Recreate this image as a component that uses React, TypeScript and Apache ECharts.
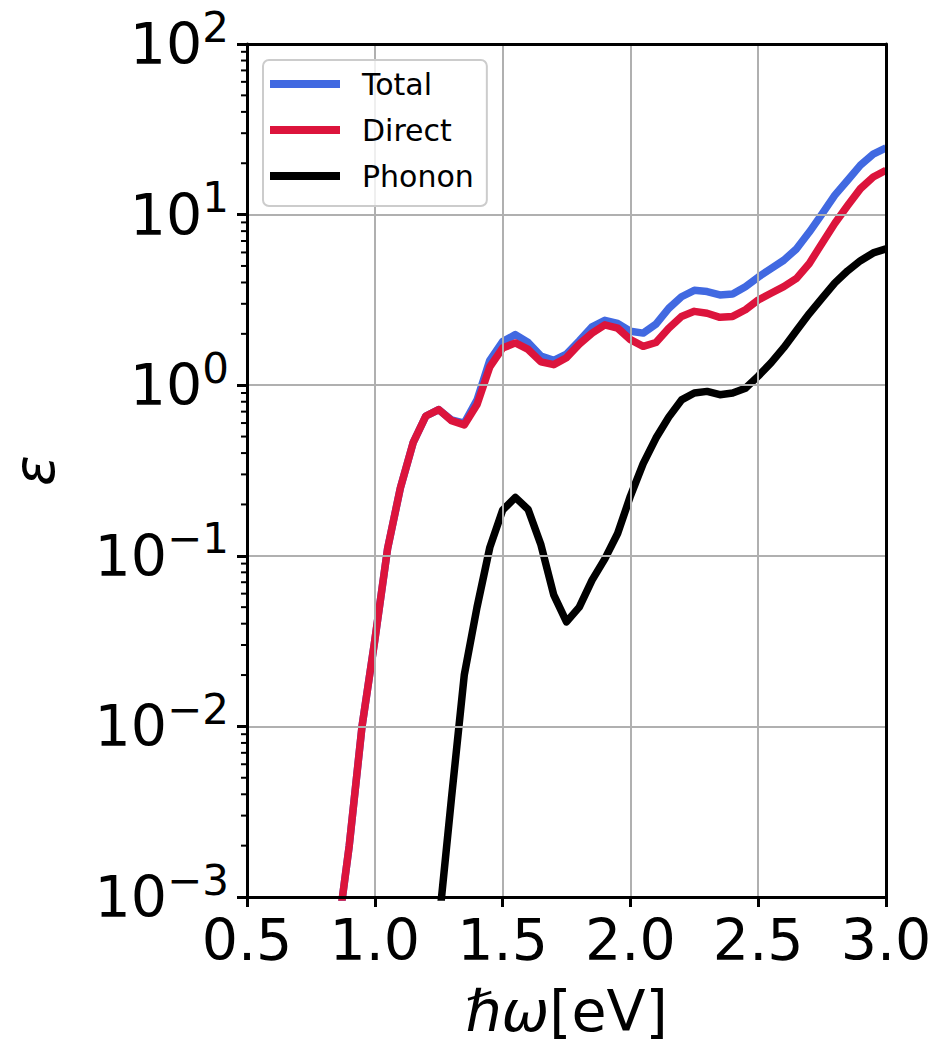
import React, { useEffect, useRef } from "react";
import * as echarts from "echarts";

const ENERGY = [
  0.85, 0.9, 0.95, 1.0, 1.05, 1.1, 1.15, 1.2, 1.25, 1.3, 1.35, 1.4, 1.45, 1.5, 1.55,
  1.6, 1.65, 1.7, 1.75, 1.8, 1.85, 1.9, 1.95, 2.0, 2.05, 2.1, 2.15, 2.2, 2.25, 2.3,
  2.35, 2.4, 2.45, 2.5, 2.55, 2.6, 2.65, 2.7, 2.75, 2.8, 2.85, 2.9, 2.95, 3.0,
];

const TOTAL = [
  0.00054, 0.002, 0.01, 0.032, 0.11, 0.25, 0.46, 0.66, 0.72, 0.625, 0.6, 0.82, 1.4, 1.8, 1.98,
  1.78, 1.48, 1.4, 1.52, 1.82, 2.2, 2.4, 2.3, 2.07, 2.02, 2.28, 2.82, 3.3, 3.6, 3.54,
  3.38, 3.42, 3.78, 4.3, 4.82, 5.4, 6.3, 7.9, 10.1, 13.0, 15.9, 19.5, 22.6, 24.6,
];

const DIRECT = [
  0.00054, 0.002, 0.01, 0.032, 0.11, 0.25, 0.46, 0.66, 0.72, 0.62, 0.585, 0.77, 1.28, 1.65, 1.77,
  1.62, 1.37, 1.32, 1.45, 1.74, 2.02, 2.26, 2.16, 1.85, 1.69, 1.78, 2.16, 2.53, 2.71, 2.64,
  2.5, 2.53, 2.77, 3.16, 3.46, 3.78, 4.23, 5.17, 6.8, 8.9, 11.3, 14.2, 16.6, 18.2,
];

const PHONON = [
  null, null, null, null, null, null, null, null, 0.00068, 0.0038, 0.02, 0.05, 0.112, 0.185, 0.22,
  0.187, 0.116, 0.059, 0.041, 0.05, 0.072, 0.096, 0.135, 0.224, 0.347, 0.49, 0.65, 0.82, 0.9, 0.92,
  0.88, 0.9, 0.96, 1.13, 1.35, 1.66, 2.09, 2.63, 3.24, 3.98, 4.68, 5.37, 5.96, 6.3,
];

const SERIES_NAMES = ["Total", "Direct", "Phonon"];
const SERIES_COLORS = ["#4169E1", "#DC143C", "#000000"];
const X_LABEL = "{i|ℏω}{n|[eV]}";
const Y_LABEL = "ε";
const DECADES = [0.001, 0.01, 0.1, 1, 10];
const MINOR_MULTIPLES = [2, 3, 4, 5, 6, 7, 8, 9];

const FONT = "DejaVu Sans";
const X_MIN = 0.5;
const X_MAX = 3.0;
const Y_MIN = 0.001;
const Y_MAX = 100;

export default function App() {
  const ref = useRef<HTMLDivElement>(null);

  useEffect(() => {
    document.body.style.margin = "0";
    const chart = echarts.init(ref.current!, null, { renderer: "svg" });

    const minorTicks: number[][] = [];
    DECADES.forEach((d) => MINOR_MULTIPLES.forEach((m) => minorTicks.push([X_MIN, d * m])));

    const valuesBySeries = [TOTAL, DIRECT, PHONON];

    const lineSeries = SERIES_NAMES.map((name, k) => ({
      name,
      type: "line",
      xAxisIndex: 0,
      yAxisIndex: 0,
      data: ENERGY.map((x, i) => [x, valuesBySeries[k][i]]),
      showSymbol: false,
      symbol: "none",
      clip: true,
      connectNulls: false,
      lineStyle: { color: SERIES_COLORS[k], width: 7.5, join: "round", cap: "butt" },
      itemStyle: { color: SERIES_COLORS[k] },
      z: 2 + k,
    }));

    const spine = { show: true, lineStyle: { color: "#000", width: 3 } };

    const option: any = {
      animation: false,
      color: SERIES_COLORS,
      grid: {
        left: 247,
        top: 44,
        right: 54,
        bottom: 148,
        containLabel: false,
        outerBoundsMode: "none",
      },
      legend: {
        data: SERIES_NAMES,
        orient: "vertical",
        left: 263,
        top: 60,
        icon: "rect",
        itemWidth: 70,
        itemHeight: 8,
        itemGap: 10,
        padding: [6, 13, 12, 7],
        backgroundColor: "rgba(255,255,255,0.8)",
        borderColor: "#cccccc",
        borderWidth: 2,
        borderRadius: 6,
        z: 20,
        textStyle: {
          fontSize: 30,
          fontFamily: FONT,
          color: "#000",
          lineHeight: 36,
          padding: [0, 0, 0, 17],
        },
      },
      xAxis: [
        {
          type: "value",
          min: X_MIN,
          max: X_MAX,
          interval: 0.5,
          axisLine: spine,
          axisTick: { show: true, length: 10, lineStyle: { color: "#000", width: 3 } },
          axisLabel: {
            formatter: (v: number) => v.toFixed(1),
            fontSize: 57,
            fontFamily: FONT,
            color: "#000",
            margin: 14,
            showMinLabel: true,
            showMaxLabel: true,
          },
          splitLine: { show: true, lineStyle: { color: "#b0b0b0", width: 2 } },
          name: X_LABEL,
          nameLocation: "middle",
          nameGap: 85,
          nameTextStyle: {
            rich: {
              i: { fontSize: 57, fontFamily: FONT, fontStyle: "italic", color: "#000" },
              n: { fontSize: 57, fontFamily: FONT, color: "#000" },
            },
          },
          z: 5,
        },
        {
          type: "value",
          position: "top",
          min: X_MIN,
          max: X_MAX,
          interval: 0.5,
          axisLine: spine,
          axisTick: { show: false },
          axisLabel: { show: false },
          splitLine: { show: false },
          z: 5,
        },
      ],
      yAxis: [
        {
          type: "log",
          logBase: 10,
          min: Y_MIN,
          max: Y_MAX,
          splitNumber: 5,
          axisLine: spine,
          axisTick: { show: true, length: 10, lineStyle: { color: "#000", width: 3 } },
          axisLabel: {
            formatter: (v: number) => {
              const e = Math.round(Math.log10(v));
              return "{b|10}{s|" + (e < 0 ? "−" + -e : String(e)) + "}";
            },
            margin: 18,
            rich: {
              b: { fontSize: 57, lineHeight: 70, fontFamily: FONT, color: "#000" },
              s: { fontSize: 42, lineHeight: 42, fontFamily: FONT, color: "#000", padding: [0, 0, 34, 0] },
            },
          },
          splitLine: { show: true, lineStyle: { color: "#b0b0b0", width: 2 } },
          name: Y_LABEL,
          nameLocation: "middle",
          nameRotate: 90,
          nameGap: 185,
          nameTextStyle: { fontSize: 57, fontFamily: FONT, fontStyle: "italic", color: "#000" },
          z: 5,
        },
        {
          type: "log",
          logBase: 10,
          position: "right",
          min: Y_MIN,
          max: Y_MAX,
          splitNumber: 5,
          axisLine: spine,
          axisTick: { show: false },
          axisLabel: { show: false },
          splitLine: { show: false },
          z: 5,
        },
      ],
      series: [
        ...lineSeries,
        {
          name: "minorTicks",
          type: "custom",
          coordinateSystem: "cartesian2d",
          xAxisIndex: 0,
          yAxisIndex: 0,
          silent: true,
          clip: false,
          z: 10,
          data: minorTicks,
          renderItem: (_params: any, api: any) => {
            const p = api.coord([api.value(0), api.value(1)]);
            return {
              type: "line",
              shape: { x1: p[0] - 6, y1: p[1], x2: p[0], y2: p[1] },
              style: { stroke: "#000", lineWidth: 2 },
            };
          },
        },
      ],
    };

    chart.setOption(option);
    return () => chart.dispose();
  }, []);

  return <div ref={ref} style={{ width: 940, height: 1045 }} />;
}
